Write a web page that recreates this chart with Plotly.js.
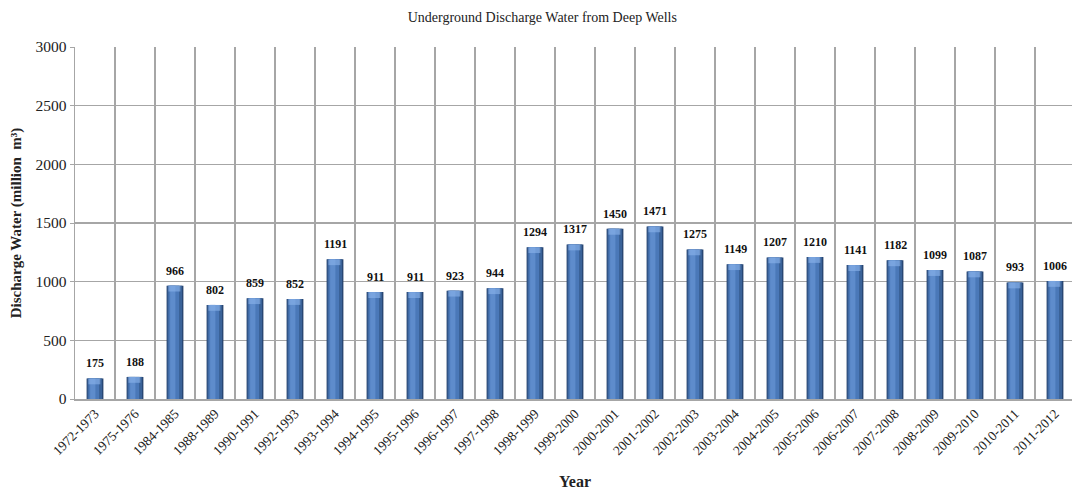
<!DOCTYPE html>
<html>
<head>
<meta charset="utf-8">
<script src="https://cdn.plot.ly/plotly-3.0.1.min.js"></script>
<style>
  html, body { margin: 0; padding: 0; overflow: hidden; background: #fff; }
  #chart { width: 1076px; height: 492px; }
</style>
</head>
<body>
<div id="chart"></div>
<script>
// Fiscal years and annual discharge from deep wells (million m³)
const years = [
  "1972-1973", "1975-1976", "1984-1985", "1988-1989", "1990-1991",
  "1992-1993", "1993-1994", "1994-1995", "1995-1996", "1996-1997",
  "1997-1998", "1998-1999", "1999-2000", "2000-2001", "2001-2002",
  "2002-2003", "2003-2004", "2004-2005", "2005-2006", "2006-2007",
  "2007-2008", "2008-2009", "2009-2010", "2010-2011", "2011-2012"
];
const discharge = [
  175, 188, 966, 802, 859,
  852, 1191, 911, 911, 923,
  944, 1294, 1317, 1450, 1471,
  1275, 1149, 1207, 1210, 1141,
  1182, 1099, 1087, 993, 1006
];
const yTicks = [0, 500, 1000, 1500, 2000, 2500, 3000];

const serif = "Liberation Serif";

// Layered bars give each column a rounded, cylinder-like shading
function layer(width, offset, color) {
  return {
    type: "bar",
    x: years,
    y: discharge,
    width: width,
    offset: offset,
    marker: { color: color, line: { width: 0 } },
    hoverinfo: "x+y",
    showlegend: false
  };
}

const traces = [
  layer(0.42, -0.21, "#26426b"),
  layer(0.37, -0.19, "#3a6298"),
  layer(0.26, -0.16, "#4a78b8"),
  layer(0.13, -0.12, "#5e8ccc"),
  // lighter cap at the top of each column
  {
    type: "bar",
    x: years,
    y: discharge.map(v => Math.min(v, 50)),
    base: discharge.map(v => v - Math.min(v, 50)),
    width: 0.30,
    offset: -0.165,
    marker: { color: "rgba(140,180,235,0.6)", line: { width: 0 } },
    hoverinfo: "skip",
    showlegend: false
  }
];

// Value labels above each column
const labels = years.map((yr, i) => ({
  x: yr,
  y: discharge[i],
  text: String(discharge[i]),
  showarrow: false,
  yanchor: "bottom",
  yshift: 6,
  font: { family: serif, size: 12, color: "#111", weight: "bold" }
}));

const layout = {
  width: 1076,
  height: 492,
  margin: { l: 75, r: 1, t: 47, b: 93 },
  paper_bgcolor: "#ffffff",
  plot_bgcolor: "#ffffff",
  barmode: "overlay",
  font: { family: serif },
  title: {
    text: "Underground Discharge Water from Deep Wells",
    font: { family: serif, size: 14, color: "#222" },
    xref: "container",
    x: 0.504,
    xanchor: "center",
    yref: "container",
    y: 0.965,
    yanchor: "middle"
  },
  xaxis: {
    type: "category",
    categoryorder: "array",
    categoryarray: years,
    tickson: "boundaries",
    showgrid: true,
    gridcolor: "#a6a6a6",
    gridwidth: 1.5,
    showline: true,
    linecolor: "#a6a6a6",
    linewidth: 1.5,
    ticks: "",
    tickangle: -45,
    tickfont: { family: serif, size: 13.5, color: "#222" },
    title: {
      text: "Year",
      font: { family: serif, size: 16, color: "#222", weight: "bold" },
      standoff: 18
    },
    automargin: false,
    fixedrange: true
  },
  yaxis: {
    range: [0, 3000],
    tickvals: yTicks,
    ticktext: yTicks.map(String),
    showgrid: true,
    gridcolor: "#a6a6a6",
    gridwidth: 1.5,
    zeroline: false,
    showline: true,
    linecolor: "#a6a6a6",
    linewidth: 1.5,
    ticks: "outside",
    ticklen: 4,
    tickcolor: "#a6a6a6",
    tickfont: { family: serif, size: 15.5, color: "#222" },
    title: {
      text: "Discharge Water (million  m³)",
      font: { family: serif, size: 15, color: "#222", weight: "bold" },
      standoff: 10
    },
    automargin: false,
    fixedrange: true
  },
  annotations: labels
};

Plotly.newPlot("chart", traces, layout, { displayModeBar: false, staticPlot: true });
</script>
</body>
</html>
